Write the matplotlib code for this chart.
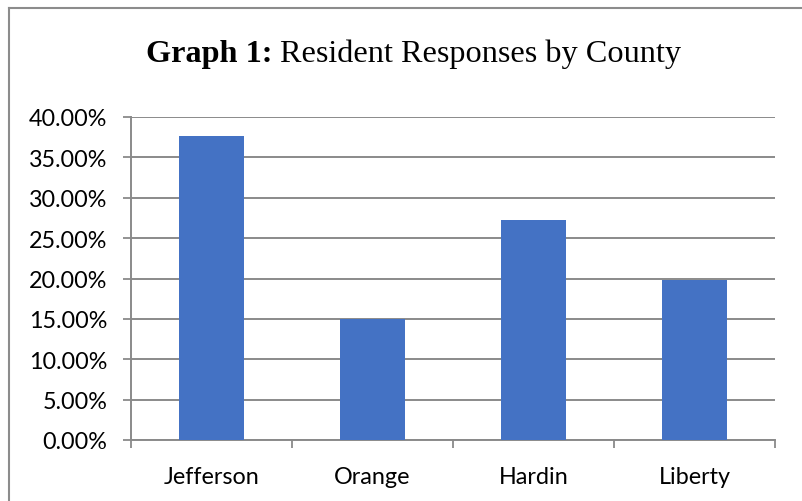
import matplotlib

matplotlib.use("Agg")
import matplotlib.pyplot as plt
from matplotlib.lines import Line2D

counties = ["Jefferson", "Orange", "Hardin", "Liberty"]
responses = [37.6, 15.0, 27.3, 19.8]  # percent of residents
yticks = [0, 5, 10, 15, 20, 25, 30, 35, 40]

BAR = "#4472C4"
GRID = "#8a8a8a"

W, H = 802, 502
fig = plt.figure(figsize=(W / 100, H / 100), dpi=100)
ax = fig.add_axes([131 / W, 1 - 441 / H, (775 - 131) / W, (441 - 118) / H])

x = range(len(counties))
ax.bar(x, responses, width=0.4, color=BAR, zorder=3)

ax.set_xlim(-0.5, len(counties) - 0.5)
ax.set_ylim(0, 40)
ax.set_yticks(yticks)
ax.set_yticklabels([f"{v:.2f}%" for v in yticks])
ax.set_xticks(list(x))
ax.set_xticklabels(counties)
# category boundary marks below the axis
ax.set_xticks([i - 0.5 for i in range(len(counties) + 1)], minor=True)

for lab in ax.get_xticklabels() + ax.get_yticklabels():
    lab.set_fontfamily("Lato")
    lab.set_fontsize(16.8)
    lab.set_color("#000000")

ax.tick_params(axis="x", which="major", length=0, pad=19)
ax.tick_params(axis="x", which="minor", length=6, width=1.3, color=GRID)
ax.tick_params(axis="y", length=6, width=1.3, color=GRID, pad=11)

ax.grid(axis="y", color=GRID, linewidth=1.4, zorder=0)
for side in ["top", "right"]:
    ax.spines[side].set_visible(False)
for side in ["left", "bottom"]:
    ax.spines[side].set_color(GRID)
    ax.spines[side].set_linewidth(1.4)

# title: bold lead-in followed by regular text
t1 = fig.text(146 / W, 1 - 62 / H, "Graph 1:", fontfamily="Liberation Serif",
              fontsize=23.2, fontweight="bold", va="baseline")
fig.canvas.draw()
bb = t1.get_window_extent()
fig.text(bb.x1 / W + 7 / W, 1 - 62 / H, "Resident Responses by County",
         fontfamily="Liberation Serif", fontsize=23.2, va="baseline")

# chart frame (only top and left edges fall inside the image)
fig.add_artist(Line2D([9 / W, 9 / W], [0, 1 - 9 / H], color="#8c8c8c", lw=1.5,
                      transform=fig.transFigure))
fig.add_artist(Line2D([9 / W, 1], [1 - 9 / H, 1 - 9 / H], color="#8c8c8c", lw=1.5,
                      transform=fig.transFigure))

plt.savefig("out.png", dpi=100)
